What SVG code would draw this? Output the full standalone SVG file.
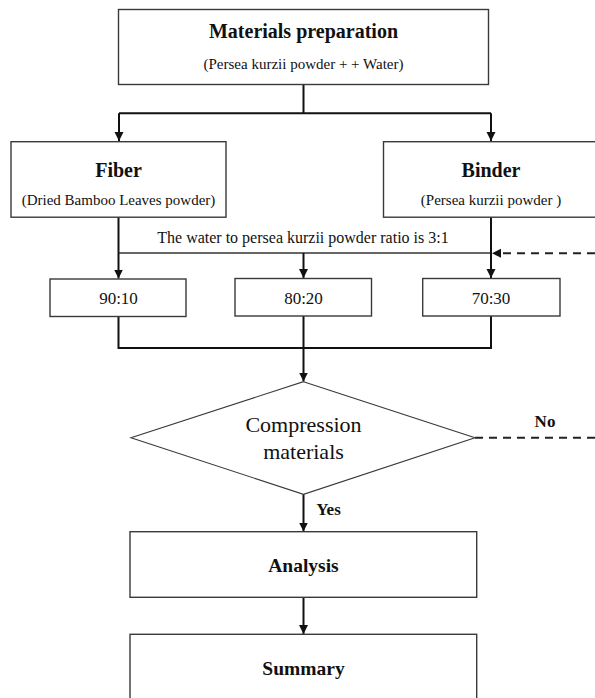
<svg xmlns="http://www.w3.org/2000/svg" width="595" height="698" viewBox="0 0 595 698">
<defs>
<marker id="ah" markerUnits="userSpaceOnUse" markerWidth="10" markerHeight="10" refX="9" refY="5" orient="auto">
<path d="M0,0.5 L9,5 L0,9.5 Z" fill="#111"/>
</marker>
</defs>
<style>
.box{fill:#fff;stroke:#3a3a3a;stroke-width:1.4}
.dia{fill:#fff;stroke:#3a3a3a;stroke-width:1.1}
.c{fill:none;stroke:#111;stroke-width:2}
.thin{fill:none;stroke:#333;stroke-width:1.4}
.dash{fill:none;stroke:#222;stroke-width:2;stroke-dasharray:8 6}
.t{font-family:"Liberation Serif","Times New Roman",serif;fill:#111;text-anchor:middle}
.b{font-weight:bold;font-size:20px}
.s{font-size:15px}
</style>
<rect width="595" height="698" fill="#fff"/>
<g id="connectors">
<path class="c" d="M303.5,84.3 V113.3"/>
<path class="c" d="M119,113.3 H491"/>
<path class="c" d="M119,113.3 V141" marker-end="url(#ah)"/>
<path class="c" d="M491,113.3 V141" marker-end="url(#ah)"/>
<path class="c" d="M118.5,217 V253"/>
<path class="thin" d="M118.5,253 H491"/>
<path class="c" d="M118.5,253 V278.5" marker-end="url(#ah)"/>
<path class="c" d="M303.5,253 V278" marker-end="url(#ah)"/>
<path class="c" d="M491,217 V278" marker-end="url(#ah)"/>
<path class="dash" d="M595,253.3 H500"/>
<path d="M492,253.3 L501,248.8 L501,257.8 Z" fill="#111"/>
<path class="c" d="M118.5,316.5 V348 H491 V316"/>
<path class="c" d="M303.5,316 V381.5" marker-end="url(#ah)"/>
<path class="dash" d="M475,437.7 H595"/>
<path class="c" d="M303.5,494.3 V531.5" marker-end="url(#ah)"/>
<path class="c" d="M303.5,597.3 V634" marker-end="url(#ah)"/>
</g>
<g id="prep">
<rect class="box" x="118.5" y="9.5" width="370" height="75"/>
<text class="t b" x="303.5" y="38">Materials preparation</text>
<text class="t s" x="303.5" y="69">(Persea kurzii powder + + Water)</text>
</g>
<g id="fiber">
<rect class="box" x="11" y="141.7" width="215" height="75.5"/>
<text class="t b" x="118.5" y="177">Fiber</text>
<text class="t s" x="118.5" y="205">(Dried Bamboo Leaves powder)</text>
</g>
<g id="binder">
<rect class="box" x="383.5" y="141.7" width="216" height="75.5"/>
<text class="t b" x="491" y="177">Binder</text>
<text class="t s" x="491" y="205">(Persea kurzii powder )</text>
</g>
<g id="ratio-label">
<text class="t" x="303" y="243" font-size="16">The water to persea kurzii powder ratio is 3:1</text>
</g>
<g id="r9010">
<rect class="box" x="50" y="279" width="136" height="37.5"/>
<text class="t" x="118.5" y="304" font-size="17">90:10</text>
</g>
<g id="r8020">
<rect class="box" x="235" y="278.5" width="136.5" height="37.5"/>
<text class="t" x="303.5" y="304" font-size="17">80:20</text>
</g>
<g id="r7030">
<rect class="box" x="422.7" y="278.5" width="137.3" height="37.5"/>
<text class="t" x="491" y="304" font-size="17">70:30</text>
</g>
<g id="compression">
<polygon class="dia" points="303.5,381.7 475,437.7 303.5,494.3 131,437.7"/>
<text class="t" x="303.5" y="432" font-size="22">Compression</text>
<text class="t" x="303.5" y="459" font-size="22">materials</text>
</g>
<g id="labels">
<text class="t b" x="545" y="427" font-size="17" style="font-size:17px">No</text>
<text class="t b" x="328.5" y="515" style="font-size:17px">Yes</text>
</g>
<g id="analysis">
<rect class="box" x="130" y="531.7" width="346.7" height="65.6"/>
<text class="t b" x="303.5" y="572" style="font-size:19.5px">Analysis</text>
</g>
<g id="summary">
<rect class="box" x="130" y="634.3" width="346.7" height="68"/>
<text class="t b" x="303.5" y="675" style="font-size:19.5px">Summary</text>
</g>
</svg>
